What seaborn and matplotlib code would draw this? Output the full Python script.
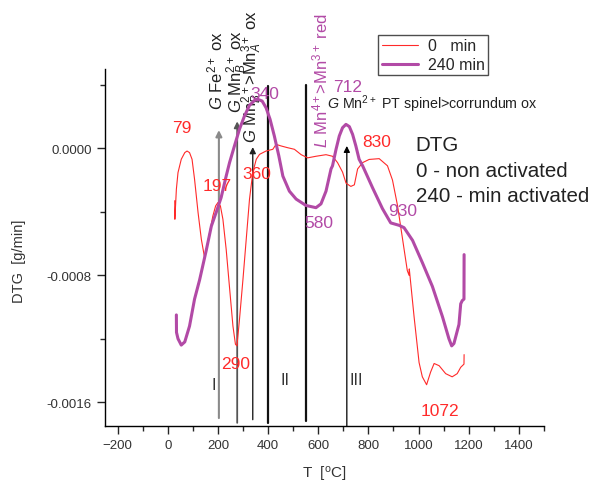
import numpy as np
import pandas as pd
import matplotlib
matplotlib.use("Agg")
import matplotlib.pyplot as plt
import seaborn as sns

# ---------------- data ----------------
t_0min = [28, 28.5, 34.5, 41, 54, 68, 77, 87, 97, 107, 121, 134, 147, 167, 180, 191, 200,
          210, 220, 233, 247, 260, 270, 276, 286, 300, 313, 326, 339, 353, 366, 392, 419,
          432, 452, 478, 505, 532, 558, 591, 631, 657, 677, 697, 711, 730, 744, 757, 777,
          803, 843, 876, 896, 916, 936, 955, 962, 963, 982, 1002, 1015, 1032, 1048, 1062,
          1082, 1108, 1134, 1154, 1168, 1181, 1181.5]
dtg_0min = [-0.00033, -0.000447, -0.000258, -0.000153, -0.000069, -0.000027, -0.000017,
            -0.000027, -0.000069, -0.000195, -0.000405, -0.000573, -0.000689, -0.000531,
            -0.000426, -0.000363, -0.000342, -0.000363, -0.000447, -0.000636, -0.000888,
            -0.00112, -0.001235, -0.001245, -0.00108, -0.000825, -0.000573, -0.000321,
            -0.000153, -0.000069, -0.000038, -0.000017, -0.000006, 0.000025, 0.000015,
            0.000004, -0.000006, -0.00004, -0.00006, -0.00005, -0.00004, -0.00005, -0.00009,
            -0.00015, -0.00022, -0.00024, -0.00023, -0.00013, -0.00009, -0.00007, -0.000065,
            -0.00011, -0.0002, -0.00036, -0.00057, -0.00077, -0.00080, -0.00076, -0.00106,
            -0.00135, -0.00144, -0.00149, -0.00141, -0.001356, -0.00137, -0.00142, -0.00144,
            -0.00142, -0.00138, -0.00136, -0.0013]

t_240min = [34.5, 35, 41, 54, 68, 87, 107, 127, 154, 174, 194, 213, 233, 246.5, 266, 286,
            306, 326, 346, 359, 376.5, 392, 408, 425, 443, 459, 485, 512, 551, 591, 611, 631,
            651, 657, 671, 684, 697, 710.5, 724, 737, 750, 763, 777, 817, 856, 889, 922, 942,
            976, 1015, 1055, 1095, 1121, 1132, 1141, 1161, 1168, 1174, 1181, 1181.5]
dtg_240min = [-0.00105, -0.00116, -0.0012, -0.00124, -0.00122, -0.00112, -0.00095, -0.00083,
              -0.00064, -0.00049, -0.0004, -0.00031, -0.000175, -0.00009, 0.000015, 0.00012,
              0.000204, 0.000271, 0.000302, 0.000309, 0.000298, 0.000256, 0.000183, 0.000078,
              -0.000048, -0.000175, -0.00027, -0.00032, -0.00036, -0.000374, -0.00035,
              -0.00027, -0.00013, -0.00011, -0.000006, 0.000078, 0.00013, 0.000151, 0.000137,
              0.000088, 0.000015, -0.000069, -0.00011, -0.00025, -0.00038, -0.00047,
              -0.000485, -0.0005, -0.00058, -0.00072, -0.00087, -0.00106, -0.0012, -0.001245,
              -0.00123, -0.00111, -0.00098, -0.00096, -0.00095, -0.00067]

series_labels = ["0   min", "240 min"]

# marker lines (temperature, bottom, top, arrow?)
vline_t = [204, 277, 339, 399, 551, 714]
vline_bottom = [-0.00170, -0.00173, -0.00171, -0.00173, -0.00172, -0.00175]
vline_top = [0.000115, 0.00017, 0.000008, 0.00039, 0.0004, 0.000015]
vline_arrow = [True, True, True, False, False, True]

red_peak_labels = ["79", "197", "290", "360", "830", "1072"]
red_peak_t = [56, 196, 270, 355, 832, 1085]
red_peak_y = [0.000132, -0.000237, -0.001356, -0.00016, 0.000046, -0.00165]

purple_peak_labels = ["340", "712", "580", "930"]
purple_peak_t = [386, 717, 604, 938]
purple_peak_y = [0.000346, 0.00039, -0.00047, -0.00039]

stage_labels = ["I", "II", "III"]
stage_t = [183, 469, 750]
stage_y = [-0.00149, -0.00146, -0.00146]

# ---------------- style ----------------
sns.set_style("ticks")
plt.rcParams['font.family'] = ['Liberation Sans', 'DejaVu Sans']
plt.rcParams['mathtext.fontset'] = 'custom'
plt.rcParams['mathtext.rm'] = 'Liberation Sans'
plt.rcParams['mathtext.it'] = 'Liberation Sans:italic'

RED = '#ff2a2a'
PURPLE = '#b24aa6'

fig = plt.figure(figsize=(5.95, 4.85), dpi=100)
ax = fig.add_axes([105/595, 1-427/485, (544-105)/595, (427-70)/485])

df0 = pd.DataFrame({"T": t_0min, "DTG": dtg_0min})
df1 = pd.DataFrame({"T": t_240min, "DTG": dtg_240min})
sns.lineplot(data=df0, x="T", y="DTG", ax=ax, color=RED, lw=0.8, sort=False,
             estimator=None, label=series_labels[0], zorder=3)
sns.lineplot(data=df1, x="T", y="DTG", ax=ax, color=PURPLE, lw=2.2, sort=False,
             estimator=None, label=series_labels[1], zorder=4)

vcolors = ['#8a8a8a', '#555555', '#222222', '#111111', '#111111', '#000000']
vwidths = [1.5, 1.3, 1.0, 1.6, 1.6, 0.9]
for t, b, tp, arr, c, w in zip(vline_t, vline_bottom, vline_top, vline_arrow, vcolors, vwidths):
    if arr:
        ax.annotate("", xy=(t, tp), xytext=(t, b),
                    arrowprops=dict(arrowstyle='-|>', color=c, lw=w, mutation_scale=9,
                                    shrinkA=0, shrinkB=0), zorder=2, annotation_clip=False)
    else:
        ax.plot([t, t], [b, tp], color=c, lw=w, zorder=2, clip_on=False)

for s, t, y in zip(red_peak_labels, red_peak_t, red_peak_y):
    ax.text(t, y, s, color=RED, fontsize=12.5, ha='center', va='center', zorder=5)
for s, t, y in zip(purple_peak_labels, purple_peak_t, purple_peak_y):
    ax.text(t, y, s, color=PURPLE, fontsize=12.5, ha='center', va='center', zorder=5)
for s, t, y in zip(stage_labels, stage_t, stage_y):
    ax.text(t, y, s, color='#333333', fontsize=11.5, ha='center', va='center')

# rotated annotations
ax.text(191, 0.000246, r"$\it{G}$ Fe$^{2+}$ ox", rotation=90, ha='center', va='bottom',
        fontsize=12, color='#222222', clip_on=False)
ax.text(276, 0.000227, r"$\it{G}$ Mn$^{2+}_{B}$ ox", rotation=90, ha='center', va='bottom',
        fontsize=12, color='#222222', clip_on=False)
ax.text(336, 0.000038, r"$\it{G}$ Mn$^{2+}_{B}$>Mn$^{3+}_{A}$ ox", rotation=90, ha='center',
        va='bottom', fontsize=12, color='#222222', clip_on=False)
ax.text(608, 0.000006, r"$\it{L}$ Mn$^{4+}$>Mn$^{3+}$ red", rotation=90, ha='center',
        va='bottom', fontsize=12, color=PURPLE, clip_on=False)
ax.text(636, 0.000252, r"$\it{G}$ Mn$^{2+}$ PT spinel>corrundum ox", ha='left',
        va='baseline', fontsize=10.3, color='#222222', clip_on=False)

for s, y in zip(["DTG", "0 - non activated", "240 - min activated"],
                [0.000025, -0.000137, -0.0003]):
    ax.text(989, y, s, ha='left', va='center', fontsize=14.8, color='#222222', clip_on=False)

# axes
ax.set_xlim(-250, 1500)
ax.set_ylim(-0.00175, 0.0005)
ax.set_xticks(np.arange(-200, 1401, 200))
ax.set_xticks(np.arange(-200, 1501, 100), minor=True)
ax.set_yticks([-0.0016, -0.0008, 0.0])
ax.set_yticks([-0.0012, -0.0004, 0.0004], minor=True)
ax.set_yticklabels(["-0.0016", "-0.0008", "0.0000"])
ax.tick_params(axis='both', which='major', length=6, width=1, labelsize=9.5,
               labelcolor='#333333', direction='out')
ax.tick_params(axis='both', which='minor', length=3.5, width=1, direction='out')
for sp in ['top', 'right']:
    ax.spines[sp].set_visible(False)
for sp in ['left', 'bottom']:
    ax.spines[sp].set_linewidth(1.0)
    ax.spines[sp].set_color('black')

ax.set_xlabel(r"T  [$^{\rm o}$C]", fontsize=11, color='#333333', labelpad=9)
ax.set_ylabel("DTG  [g/min]", fontsize=10.5, color='#333333')
ax.yaxis.set_label_coords(-0.18, 0.463)

leg = ax.legend(loc='upper right', bbox_to_anchor=(488/595, 1-36/485),
                bbox_transform=fig.transFigure, fontsize=11.5, frameon=True,
                fancybox=False, edgecolor='#222222', handlelength=2.3,
                borderpad=0.2, labelspacing=0.25, handletextpad=0.6, borderaxespad=0)
leg.get_frame().set_linewidth(1.0)

fig.savefig("out.png", dpi=100)
